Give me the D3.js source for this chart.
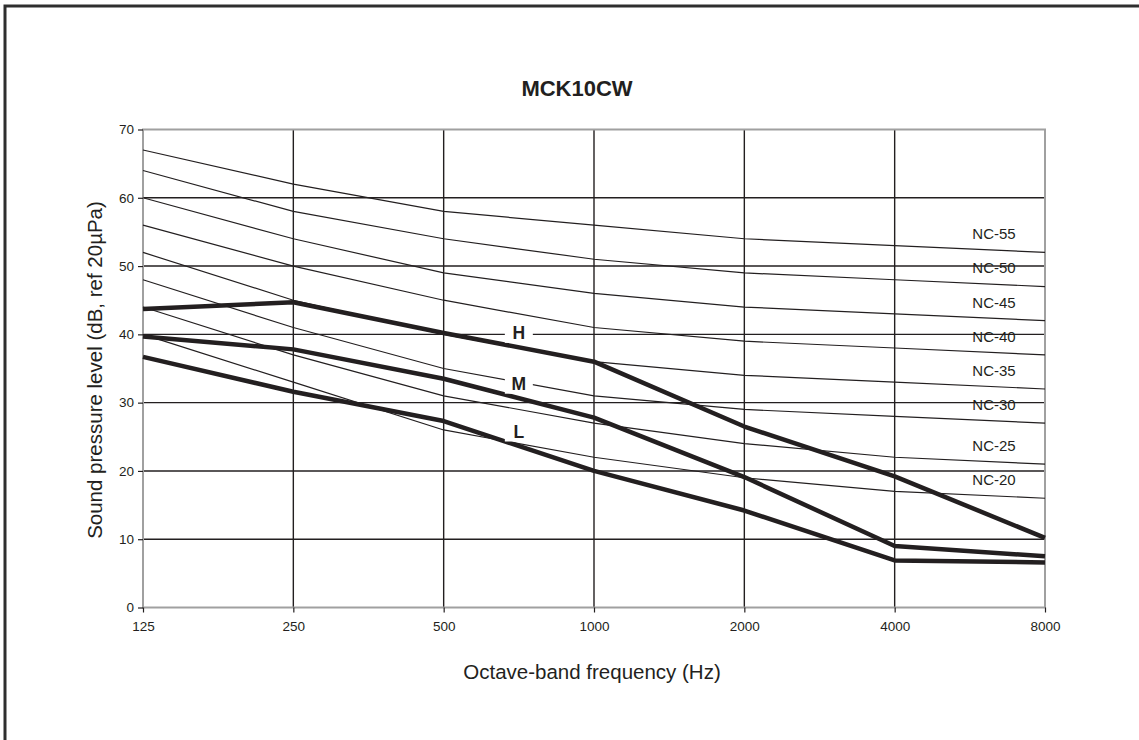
<!DOCTYPE html>
<html>
<head>
<meta charset="utf-8">
<script src="https://cdn.jsdelivr.net/npm/d3@7"></script>
<style>
  body { margin: 0; background: #fff; }
  svg text { font-family: "Liberation Sans", Arial, sans-serif; fill: #231f20; }
</style>
</head>
<body>
<div class="plot"></div>
<script>
// octave band centre frequencies (Hz)
const freqs = [125, 250, 500, 1000, 2000, 4000, 8000];
const yTicks = [0, 10, 20, 30, 40, 50, 60, 70];

// NC reference curves
const ncNames = ['NC-55', 'NC-50', 'NC-45', 'NC-40', 'NC-35', 'NC-30', 'NC-25', 'NC-20'];
const nc55 = [67, 62, 58, 56, 54, 53, 52];
const nc50 = [64, 58, 54, 51, 49, 48, 47];
const nc45 = [60, 54, 49, 46, 44, 43, 42];
const nc40 = [56, 50, 45, 41, 39, 38, 37];
const nc35 = [52, 45, 40, 36, 34, 33, 32];
const nc30 = [48, 41, 35, 31, 29, 28, 27];
const nc25 = [44, 37, 31, 27, 24, 22, 21];
const nc20 = [40, 33, 26, 22, 19, 17, 16];

// unit fan speeds
const speedNames = ['H', 'M', 'L'];
const speedH = [43.7, 44.7, 40.2, 36.0, 26.5, 19.2, 10.2];
const speedM = [39.7, 37.8, 33.5, 27.8, 19.1, 9.0, 7.5];
const speedL = [36.7, 31.6, 27.3, 20.0, 14.2, 6.9, 6.6];

const createChart = () => {
    const W = 1139, H = 740;
    const left = 143, right = 1045, top = 129.5, bottom = 607.5;
    const ink = '#231f20', grey = '#a0a0a0';

    const svg = d3.select('.plot')
        .append('svg')
        .attr('width', W)
        .attr('height', H);

    // outer frame (open to the right and bottom)
    svg.append('rect')
        .attr('x', 5).attr('y', 6)
        .attr('width', W + 20).attr('height', H + 20)
        .attr('fill', 'none')
        .attr('stroke', '#2e2e2e')
        .attr('stroke-width', 3);

    const x = d3.scaleLog().base(2)
        .domain([125, 8000])
        .range([left, right]);

    const y = d3.scaleLinear()
        .domain([0, 70])
        .range([bottom, top]);

    // grid
    svg.append('g')
        .selectAll('line')
        .data(yTicks.slice(1, -1))
        .join('line')
        .attr('x1', left).attr('x2', right)
        .attr('y1', d => y(d)).attr('y2', d => y(d))
        .attr('stroke', ink)
        .attr('stroke-width', 1.4);

    svg.append('g')
        .selectAll('line')
        .data(freqs.slice(1, -1))
        .join('line')
        .attr('x1', d => x(d)).attr('x2', d => x(d))
        .attr('y1', top).attr('y2', bottom)
        .attr('stroke', ink)
        .attr('stroke-width', 1.4);

    // plot border
    svg.append('rect')
        .attr('x', left).attr('y', top)
        .attr('width', right - left).attr('height', bottom - top)
        .attr('fill', 'none')
        .attr('stroke', grey)
        .attr('stroke-width', 2);

    // axes
    const yAxis = d3.axisLeft(y).tickValues(yTicks).tickSize(5).tickPadding(4);
    const xAxis = d3.axisBottom(x).tickValues(freqs).tickFormat(d3.format('d')).tickSize(5).tickPadding(9);

    const gy = svg.append('g')
        .attr('transform', `translate(${left},0)`)
        .call(yAxis);
    const gx = svg.append('g')
        .attr('transform', `translate(0,${bottom})`)
        .call(xAxis);

    [gx, gy].forEach(g => {
        g.select('.domain').remove();
        g.selectAll('.tick line').attr('stroke', ink).attr('stroke-width', 1.2);
        g.selectAll('.tick text')
            .attr('font-size', '13.5px')
            .attr('fill', ink)
            .style('font-family', '"Liberation Sans", Arial, sans-serif');
    });

    const line = d3.line()
        .x((d, i) => x(freqs[i]))
        .y(d => y(d));

    // NC curves
    const ncSeries = [nc55, nc50, nc45, nc40, nc35, nc30, nc25, nc20];
    svg.append('g')
        .selectAll('path')
        .data(ncSeries)
        .join('path')
        .attr('d', line)
        .attr('fill', 'none')
        .attr('stroke', ink)
        .attr('stroke-width', 1.2);

    svg.append('g')
        .selectAll('text')
        .data(ncSeries)
        .join('text')
        .text((d, i) => ncNames[i])
        .attr('x', x(8000) - 51)
        .attr('y', d => y(d[6] + 2.7))
        .attr('dy', '0.35em')
        .attr('text-anchor', 'middle')
        .attr('font-size', '15px');

    // speed curves
    const speeds = [speedH, speedM, speedL];
    svg.append('g')
        .selectAll('path')
        .data(speeds)
        .join('path')
        .attr('d', line)
        .attr('fill', 'none')
        .attr('stroke', ink)
        .attr('stroke-width', 4.5)
        .attr('stroke-linejoin', 'round');

    const labX = x(Math.sqrt(500 * 1000));
    const labs = svg.append('g')
        .selectAll('g')
        .data(speeds)
        .join('g')
        .attr('transform', d => `translate(${labX},${y((d[2] + d[3]) / 2) - 14.5})`);
    labs.append('rect')
        .attr('x', -14).attr('y', -10)
        .attr('width', 28).attr('height', 20)
        .attr('fill', '#fff');
    labs.append('text')
        .text((d, i) => speedNames[i])
        .attr('text-anchor', 'middle')
        .attr('dy', '0.36em')
        .attr('font-weight', 'bold')
        .attr('font-size', '17.5px');

    // titles
    svg.append('text')
        .text('MCK10CW')
        .attr('x', 577).attr('y', 96)
        .attr('text-anchor', 'middle')
        .attr('font-weight', 'bold')
        .attr('font-size', '22px');

    svg.append('text')
        .text('Octave-band frequency (Hz)')
        .attr('x', 592).attr('y', 679)
        .attr('text-anchor', 'middle')
        .attr('font-size', '20.5px');

    svg.append('text')
        .text('Sound pressure level (dB, ref 20µPa)')
        .attr('transform', 'translate(102, 370) rotate(-90)')
        .attr('text-anchor', 'middle')
        .attr('font-size', '20.5px');
};

createChart();
</script>
</body>
</html>
